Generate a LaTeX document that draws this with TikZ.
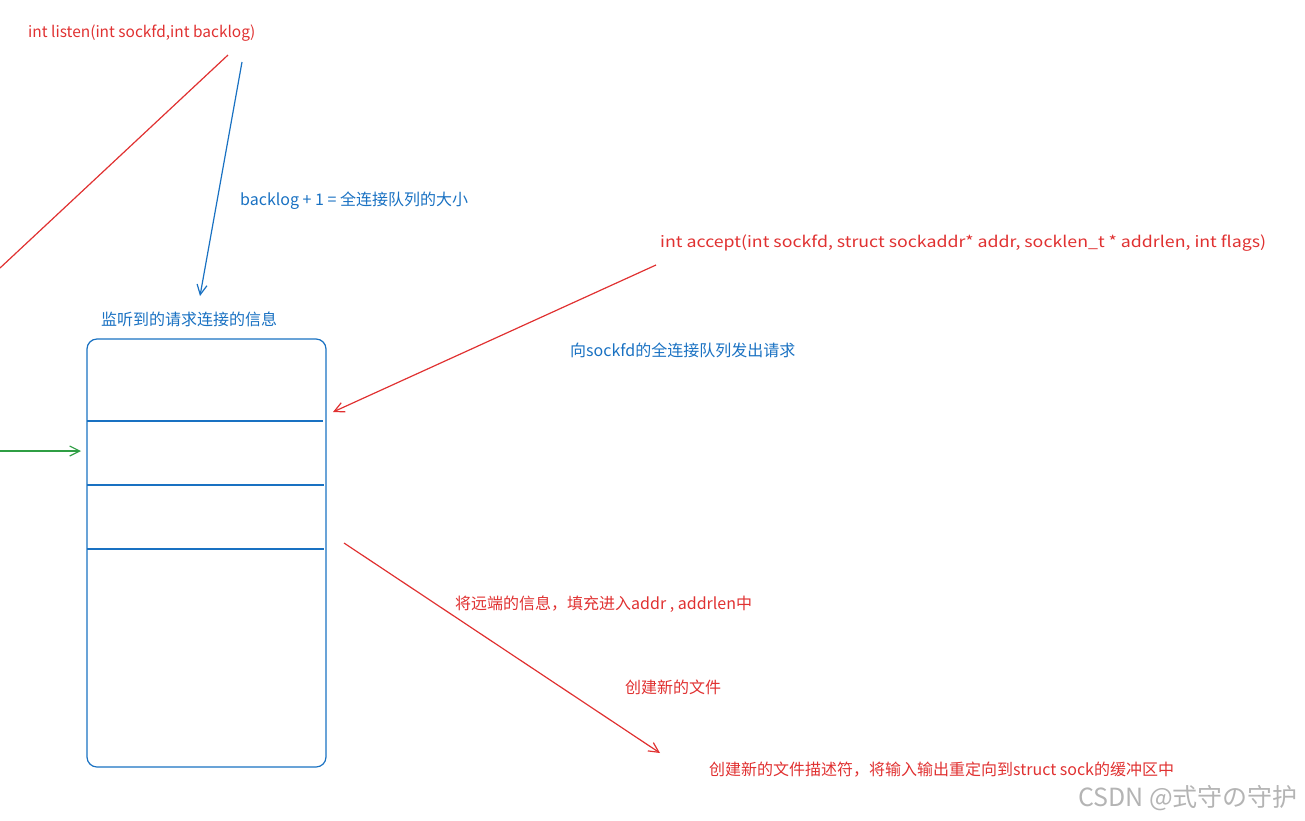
\documentclass[tikz,border=0pt]{standalone}
\usepackage{fontspec}
\setmainfont{Noto Sans CJK SC}
\usetikzlibrary{arrows.meta}
\definecolor{exred}{HTML}{E03131}
\definecolor{exblue}{HTML}{1971C2}
\definecolor{exgreen}{HTML}{2F9E44}
\definecolor{wmgray}{HTML}{B4B4B4}
\tikzset{
  lbl/.style={inner sep=0pt, anchor=west, font=\fontsize{16}{18}\selectfont},
  redlbl/.style={lbl, text=exred},
  bluelbl/.style={lbl, text=exblue},
  conn/.style={line width=1.2pt},
  arr/.style={conn, -{Straight Barb[length=10pt,width=10pt,line width=1.2pt]}},
}
\begin{document}
\begin{tikzpicture}[x=1pt,y=-1pt]
\useasboundingbox (0,0) rectangle (1305,820);
% texts
\node[redlbl, font=\fontsize{15.45}{18}\selectfont] (listen) at (28,33) {int listen(int sockfd,int backlog)};
\node[bluelbl] (backlog) at (240,201) {backlog + 1 = 全连接队列的大小};
\node[bluelbl] (title) at (101,319) {监听到的请求连接的信息};
\node[redlbl, font=\fontsize{15.5}{18}\selectfont] (accept) at (660,243) {\scalebox{1.146}[1]{int accept(int sockfd, struct sockaddr* addr, socklen\_t * addrlen, int flags)}};
\node[bluelbl] (req) at (570,350) {向sockfd的全连接队列发出请求};
\node[redlbl] (fill) at (455,604) {将远端的信息，填充进入addr , addrlen中};
\node[redlbl] (newfile) at (625,687) {创建新的文件};
\node[redlbl] (newfd) at (709,770) {创建新的文件描述符，将输入输出重定向到struct sock的缓冲区中};
\node[inner sep=0pt, anchor=west, text=wmgray, font=\fontsize{25}{28}\selectfont] (wm) at (1078,798) {CSDN @式守の守护};
% queue box
\node[draw=exblue, line width=1.2pt, rounded corners=10pt, minimum width=239pt, minimum height=428pt, inner sep=0pt] (queue) at (206.5,553) {};
\draw[exblue, line width=1.2pt] (87,421) -- (323,421);
\draw[exblue, line width=1.2pt] (87,485) -- (324,485);
\draw[exblue, line width=1.2pt] (87,549) -- (324,549);
% coordinates
\coordinate (l1) at (228,55);
\coordinate (l2) at (0,268);
\coordinate (b1) at (242,62);
\coordinate (b2) at (200,296);
\coordinate (g1) at (0,451);
\coordinate (g2) at (81,451);
\coordinate (a1) at (656,265);
\coordinate (a2) at (333,412);
\coordinate (c1) at (344,543);
\coordinate (c2) at (660,753);
% connectors
\draw[conn, exred] (l1) -- (l2);
\draw[arr, exblue] (b1) -- (b2);
\draw[arr, exgreen] (g1) -- (g2);
\draw[arr, exred] (a1) -- (a2);
\draw[arr, exred] (c1) -- (c2);
\end{tikzpicture}
\end{document}
